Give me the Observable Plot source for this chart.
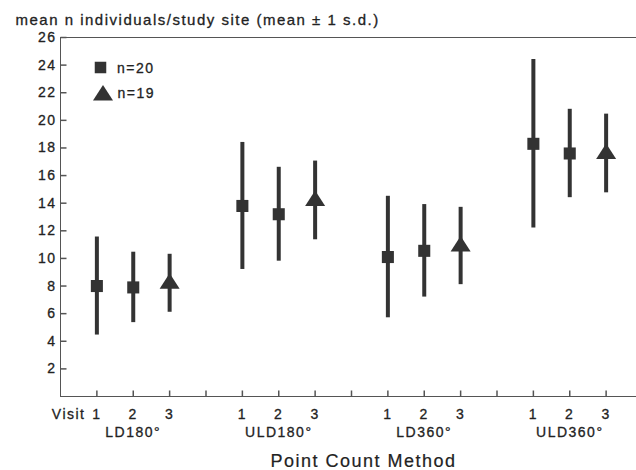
<!DOCTYPE html>
<html>
<head>
<meta charset="utf-8">
<script src="https://cdn.jsdelivr.net/npm/d3@7"></script>
<script src="https://cdn.jsdelivr.net/npm/@observablehq/plot@0.6"></script>
<style>
  body { margin: 0; background: #fff; }
</style>
</head>
<body>
<div id="chart"></div>
<script>
// Point count methods (x groups) and the three visits within each
const methods = ["LD180°", "ULD180°", "LD360°", "ULD360°"];
const visits = [1, 2, 3];
// number of study sites behind each visit's mean
const sampleSizes = [20, 20, 19];

// mean n individuals per study site, one row per method, one column per visit
const means = [
  [8.0, 7.9, 8.2],
  [13.8, 13.2, 14.2],
  [10.1, 10.55, 10.9],
  [18.3, 17.6, 17.6]
];
// one standard deviation around each mean
const sds = [
  [3.55, 2.55, 2.1],
  [4.6, 3.4, 2.85],
  [4.4, 3.35, 2.8],
  [6.1, 3.2, 2.85]
];

const yTicks = [2, 4, 6, 8, 10, 12, 14, 16, 18, 20, 22, 24, 26];
const legendLabels = ["n=20", "n=19"];
const yTitle = "mean n individuals/study site (mean ± 1 s.d.)";
const xTitle = "Point Count Method";
const visitLabel = "Visit";

// each method occupies four slots: three visits and an empty spacer
const slotsPerMethod = 4;
const rows = methods.flatMap((method, i) =>
  visits.map((visit, j) => ({
    method,
    visit,
    slot: slotsPerMethod * i + visit,
    mean: means[i][j],
    sd: sds[i][j],
    n: sampleSizes[j]
  }))
);
const tickSlots = d3.range(1, slotsPerMethod * methods.length);

// small custom symbols: inward tick marks and a flat triangle
const tickRight = { draw(c) { c.moveTo(0, 0); c.lineTo(6, 0); } };
const tickUp = { draw(c) { c.moveTo(0, 0); c.lineTo(0, -6); } };
const triangle = { draw(c) { c.moveTo(0, -10); c.lineTo(10, 5.5); c.lineTo(-10, 5.5); c.closePath(); } };

const ink = "#333";
const axisInk = "#555";
const textInk = "#222";
// a thin outline gives the lettering a slightly heavier weight
const heavy = { fill: textInk, stroke: textInk, strokeWidth: 0.3 };

const chart = Plot.plot({
  width: 636,
  height: 470,
  marginLeft: 60,
  marginRight: 0,
  marginTop: 37,
  marginBottom: 74,
  style: {
    fontFamily: "'Liberation Sans', Arial, Helvetica, sans-serif",
    fontSize: "14px",
    letterSpacing: "1.5px",
    color: textInk,
    background: "#fff",
    overflow: "visible"
  },
  x: { domain: [0, 16], range: [60, 642], axis: null },
  y: { domain: [0, 26], axis: null },
  marks: [
    // frame: left axis, baseline and top border
    Plot.ruleX([0], { stroke: axisInk, strokeWidth: 1 }),
    Plot.ruleY([0, 26], { stroke: axisInk, strokeWidth: 1 }),
    // inward tick marks
    Plot.dot(yTicks, { y: d => d, frameAnchor: "left", symbol: tickRight, stroke: axisInk, fill: "none", r: 6 }),
    Plot.dot(tickSlots, { x: d => d, frameAnchor: "bottom", symbol: tickUp, stroke: axisInk, fill: "none", r: 6 }),
    // y tick labels
    Plot.text(yTicks, { y: d => d, frameAnchor: "left", textAnchor: "end", dx: -4, lineAnchor: "middle", ...heavy }),
    // error bars (mean ± 1 s.d.)
    Plot.ruleX(rows, { x: "slot", y1: d => d.mean - d.sd, y2: d => d.mean + d.sd, stroke: ink, strokeWidth: 4 }),
    // means: squares for n=20, triangles for n=19
    Plot.dot(rows.filter(d => d.n === 20), { x: "slot", y: "mean", symbol: "square", r: 6.8, fill: ink, stroke: "none" }),
    Plot.dot(rows.filter(d => d.n === 19), { x: "slot", y: "mean", symbol: triangle, fill: ink, stroke: "none" }),
    // legend
    Plot.dot([legendLabels[0]], { frameAnchor: "top-left", dx: 40, dy: 30, symbol: "square", r: 6.5, fill: ink, stroke: "none" }),
    Plot.dot([legendLabels[1]], { frameAnchor: "top-left", dx: 42.5, dy: 57.5, symbol: triangle, fill: ink, stroke: "none" }),
    Plot.text([legendLabels[0]], { frameAnchor: "top-left", dx: 56.5, dy: 31, textAnchor: "start", lineAnchor: "middle", ...heavy }),
    Plot.text([legendLabels[1]], { frameAnchor: "top-left", dx: 57, dy: 56.5, textAnchor: "start", lineAnchor: "middle", ...heavy }),
    // x labels: visit numbers, method names, axis title
    Plot.text(rows, { x: "slot", text: d => String(d.visit), frameAnchor: "bottom", dy: 18, lineAnchor: "middle", ...heavy }),
    Plot.text([visitLabel], { frameAnchor: "bottom-left", textAnchor: "end", dx: 25, dy: 18, lineAnchor: "middle", ...heavy }),
    Plot.text(methods, { x: (d, i) => slotsPerMethod * i + 2, frameAnchor: "bottom", dy: 36, lineAnchor: "middle", ...heavy }),
    Plot.text([xTitle], { frameAnchor: "bottom", dx: 15, dy: 65, fontSize: 18, lineAnchor: "middle", fill: textInk, stroke: textInk, strokeWidth: 0.2 }),
    // y title above the frame
    Plot.text([yTitle], { frameAnchor: "top-left", dx: -45, dy: -17, textAnchor: "start", lineAnchor: "middle", fontSize: 15, ...heavy })
  ]
});

document.getElementById("chart").appendChild(chart);
</script>
</body>
</html>
